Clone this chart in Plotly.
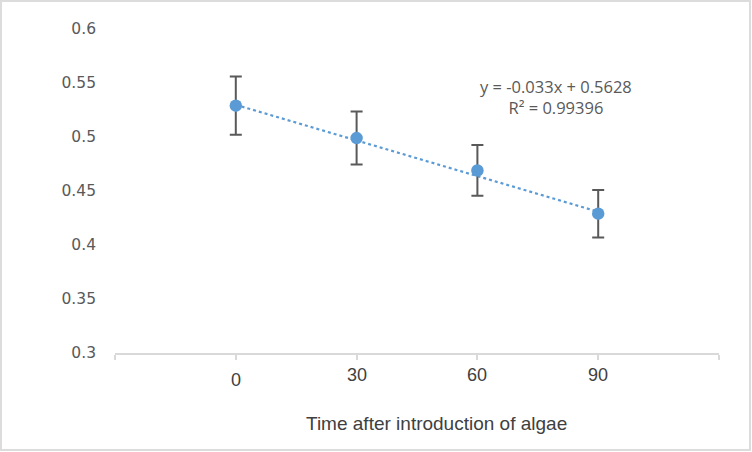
import plotly.graph_objects as go

# ---- data ----
categories = ["0", "30", "60", "90"]
values = [0.529, 0.499, 0.469, 0.429]
errors = [0.027, 0.0245, 0.0235, 0.022]
trend_slope = -0.033
trend_intercept = 0.5628
equation_text = "y = -0.033x + 0.5628<br>R² = 0.99396"
x_title = "Time after introduction of algae"
y_ticks = [0.3, 0.35, 0.4, 0.45, 0.5, 0.55, 0.6]
y_ticklabels = ["0.3", "0.35", "0.4", "0.45", "0.5", "0.55", "0.6"]

W, H = 752, 452
ML, MR, MT, MB = 115, 33, 29, 99
PW, PH = W - ML - MR, H - MT - MB

xi = list(range(len(categories)))
trend_x = [xi[0], xi[-1]]
trend_y = [trend_slope * (x + 1) + trend_intercept for x in trend_x]

blue = "#5b9bd5"
grey = "#595959"

fig = go.Figure()
fig.add_trace(go.Scatter(
    x=trend_x, y=trend_y, mode="lines",
    line=dict(color=blue, width=2.2, dash="dot"),
    hoverinfo="skip", showlegend=False))
fig.add_trace(go.Scatter(
    x=xi, y=values, mode="markers",
    marker=dict(color=blue, size=12.5),
    error_y=dict(type="data", array=errors, visible=True,
                 color=grey, thickness=2, width=6),
    showlegend=False))

# category labels (the first label sits a bit lower in the reference)
for i, lab in enumerate(categories):
    fig.add_annotation(x=xi[i], y=0, xref="x", yref="paper",
                       text=lab, showarrow=False, yanchor="top",
                       yshift=-(15 if i == 0 else 10),
                       font=dict(family="Liberation Sans, Arial", size=18, color="#404040"))

fig.add_annotation(x=2.65, y=0.537, xref="x", yref="y", text=equation_text,
                   showarrow=False, align="center",
                   font=dict(family="Open Sans, Liberation Sans", size=16.5, color=grey))

fig.add_annotation(x=(437 - ML) / PW, y=-(423 - 353) / PH, xref="paper", yref="paper",
                   text=x_title, showarrow=False, yanchor="middle",
                   font=dict(family="Liberation Sans, Arial", size=19, color="#404040"))

# outer chart border
fig.add_shape(type="rect", xref="paper", yref="paper",
              x0=-(ML - 1) / PW, x1=1 + (MR - 2) / PW,
              y0=-(MB - 2) / PH, y1=1 + (MT - 1) / PH,
              line=dict(color="#dcdcdc", width=2), layer="below")

fig.update_layout(
    width=W, height=H,
    margin=dict(l=ML, r=MR, t=MT, b=MB),
    paper_bgcolor="white", plot_bgcolor="white",
    xaxis=dict(range=[-1, 4], tickvals=[-1, 0, 1, 2, 3, 4],
               ticktext=[""] * 6, ticks="outside", ticklen=5,
               tickcolor="#d9d9d9", tickwidth=2,
               showline=True, linecolor="#d9d9d9", linewidth=2,
               showgrid=False, zeroline=False, fixedrange=True),
    yaxis=dict(range=[0.3, 0.6], tickvals=y_ticks, ticktext=y_ticklabels,
               showgrid=False, zeroline=False, showline=False,
               ticks="", ticklabelstandoff=18,
               tickfont=dict(family="DejaVu Sans", size=15.5, color=grey)),
)

fig.write_html("out.html", config={"displayModeBar": False},
               post_script="document.body.style.margin='0';document.body.style.overflow='hidden';")
